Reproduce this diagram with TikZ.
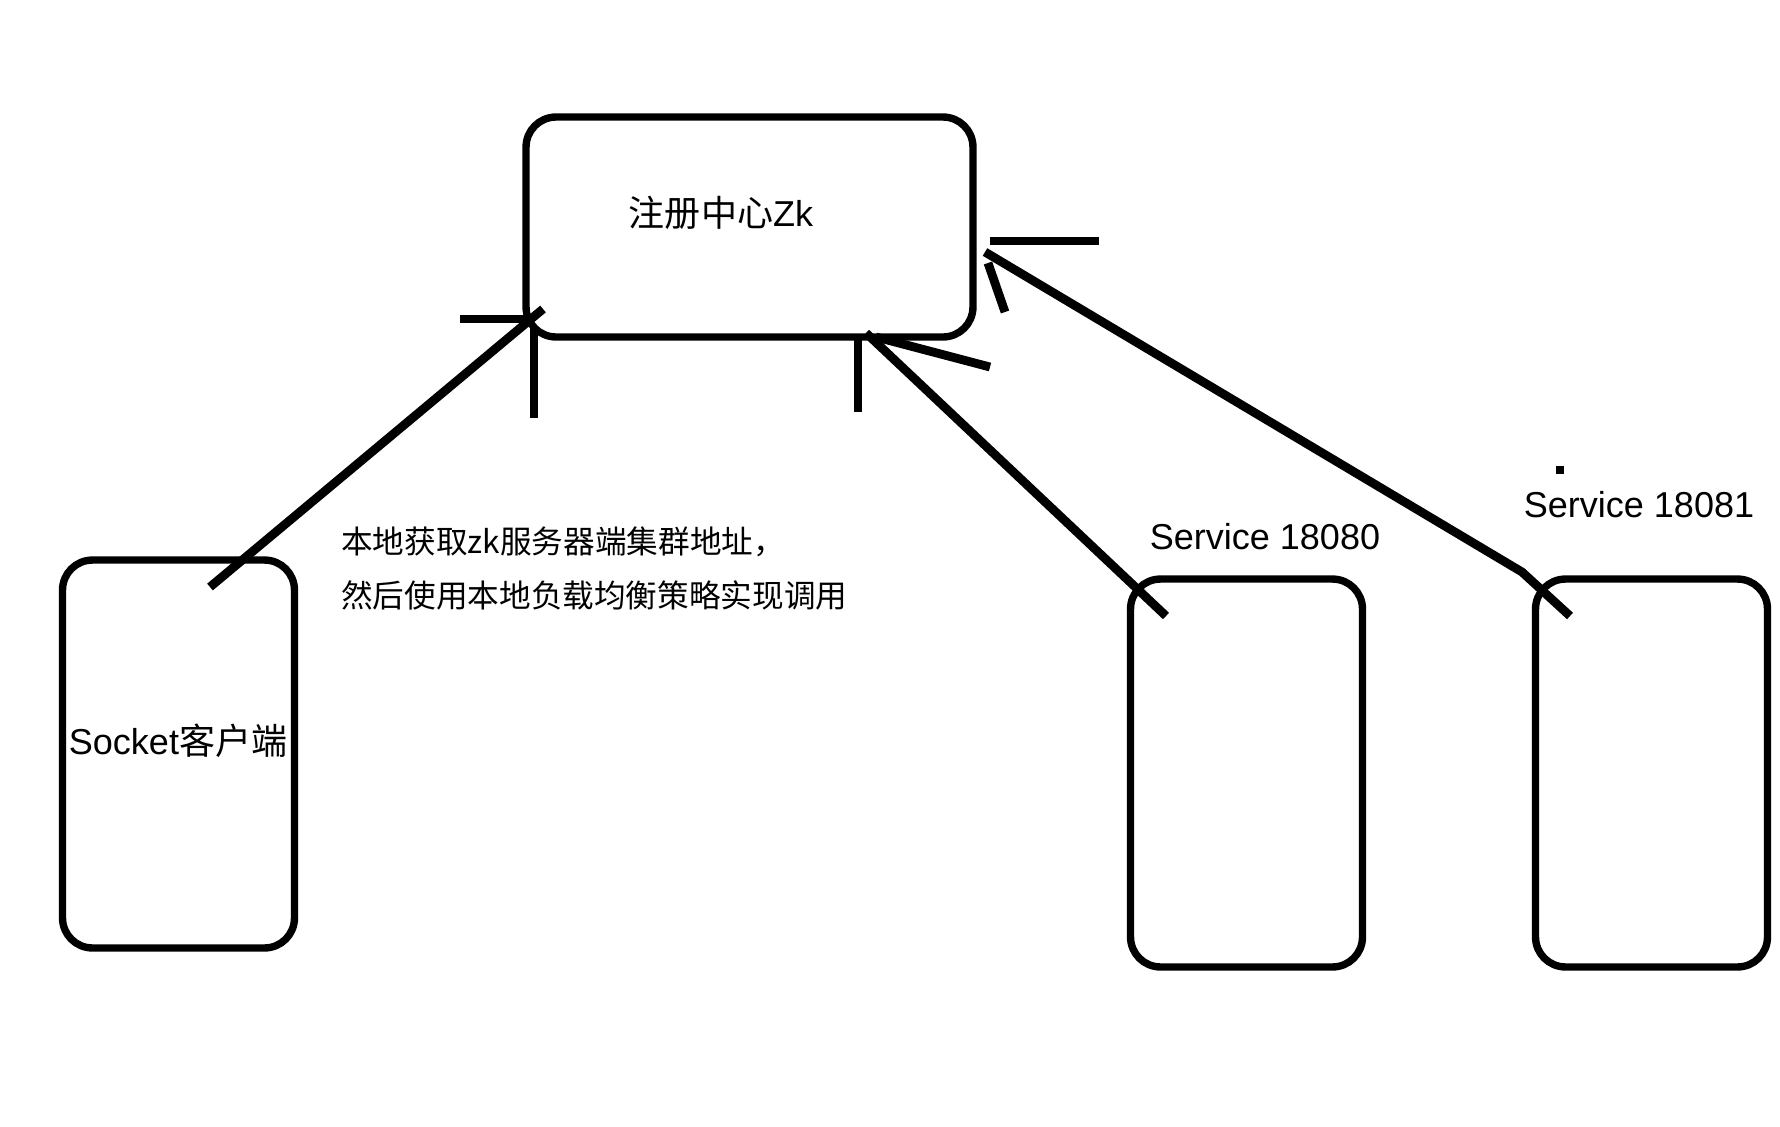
\documentclass[tikz,border=0pt]{standalone}
\usepackage{fontspec}
\setmainfont{Liberation Sans}
\newfontfamily\cjk{Noto Sans CJK SC}
\usetikzlibrary{calc}

\begin{document}
\begin{tikzpicture}[x=0.02cm, y=-0.02cm,
    hostbox/.style={draw, line width=4.2pt, rounded corners=0.6cm,
        inner sep=0pt, minimum width=4.64cm, minimum height=7.76cm},
    link/.style={line width=5pt},
    lbl/.style={font=\fontsize{20.5pt}{24pt}\selectfont, inner sep=0pt},
    note/.style={font=\cjk\fontsize{18pt}{31pt}\selectfont, align=left,
        anchor=west, inner sep=0pt},
]
\useasboundingbox (0,0) rectangle (1780,1126);

% Registry and hosts
\node[hostbox, minimum width=8.94cm, minimum height=4.4cm] (zk) at (749.5,227) {};
\node[hostbox] (client) at (178.5,754) {};
\node[hostbox] (svcA) at (1246.5,773) {};
\node[hostbox] (svcB) at (1651.5,773) {};

% Labels
\node[lbl] (zklbl) at (721,213) {{\cjk 注册中心}Zk};
\node[lbl] (clientlbl) at (178,741) {Socket{\cjk 客户端}};
\node[lbl] (svcAlbl) at (1265,537) {Service 18080};
\node[lbl] (svcBlbl) at (1639,505) {Service 18081};
\fill (1556,466) rectangle (1564,474);
\node[note] (hint) at (341,568.5) {本地获取zk服务器端集群地址，\\然后使用本地负载均衡策略实现调用};

% Hand-drawn arrows into the registry
\coordinate (tailA) at (210,587);
\coordinate (tipA) at (543,309);
\draw[link] (tailA) -- (tipA);
\draw[link] ($(tipA)+(-83,10)$) -- ($(tipA)+(-12,10)$);
\draw[link] ($(tipA)+(-9,18)$) -- ($(tipA)+(-9,109)$);

\coordinate (tailB) at (1166,616);
\coordinate (tipB) at (866,333);
\draw[link] (tailB) -- (tipB);
\draw[link] ($(tipB)+(-8,2)$) -- ($(tipB)+(-8,79)$);
\draw[link] ($(tipB)+(10,4)$) -- ($(tipB)+(124,34)$);

\coordinate (tailC) at (1570,616);
\coordinate (tipC) at (985,252);
\draw[link] (tailC) -- (1522,572) -- (tipC);
\draw[link] ($(tipC)+(5,-11)$) -- ($(tipC)+(114,-11)$);
\draw[link] ($(tipC)+(3,11)$) -- ($(tipC)+(20,60)$);

\end{tikzpicture}
\end{document}
